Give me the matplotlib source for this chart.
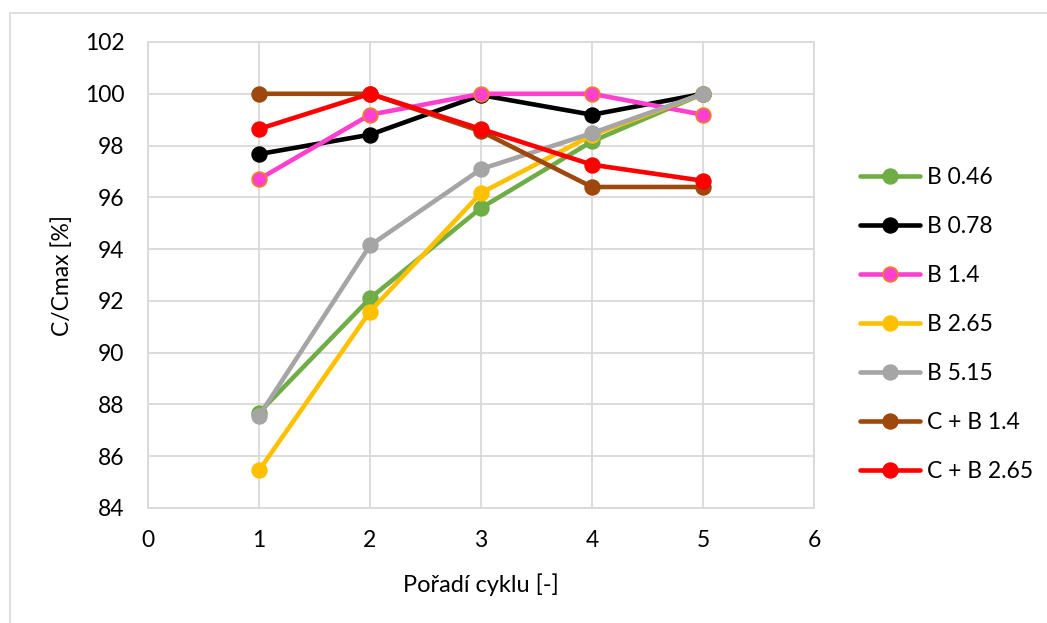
import matplotlib
matplotlib.use("Agg")
import matplotlib.pyplot as plt
from matplotlib.patches import Rectangle

plt.rcParams['font.family'] = ['Lato', 'DejaVu Sans']

cycles = [1, 2, 3, 4, 5]
series_names = ["B 0.46", "B 0.78", "B 1.4", "B 2.65", "B 5.15", "C + B 1.4", "C + B 2.65"]
b046 = [87.68, 92.10, 95.59, 98.16, 100.0]
b078 = [97.67, 98.42, 99.95, 99.19, 100.0]
b14 = [96.70, 99.19, 100.0, 100.0, 99.19]
b265 = [85.45, 91.59, 96.17, 98.40, 100.0]
b515 = [87.55, 94.14, 97.09, 98.48, 100.0]
cb14 = [100.0, 100.0, 98.55, 96.40, 96.40]
cb265 = [98.64, 100.0, 98.64, 97.26, 96.64]
series_values = [b046, b078, b14, b265, b515, cb14, cb265]
x_ticks = [0, 1, 2, 3, 4, 5, 6]
y_ticks = [84, 86, 88, 90, 92, 94, 96, 98, 100, 102]

colors = ["#70ad47", "#000000", "#ff3fcf", "#ffc000", "#a5a5a5", "#9e480e", "#ff0000"]
edge_colors = ["#70ad47", "#000000", "#ed7d31", "#ffc000", "#a5a5a5", "#9e480e", "#ff0000"]

W, H = 1047, 623
fig = plt.figure(figsize=(W / 100, H / 100), dpi=100)
fig.patches.append(Rectangle((10 / W, -0.1), 1.2, (H - 13) / H + 0.1, transform=fig.transFigure,
                             fill=False, edgecolor="#d9d9d9", linewidth=1.2))

ax = fig.add_axes([148 / W, 1 - 508 / H, 666 / W, 466 / H])
grid_c = "#d9d9d9"
for s in ax.spines.values():
    s.set_color(grid_c)
    s.set_linewidth(1.3)
ax.grid(True, color=grid_c, linewidth=1.3)
ax.set_axisbelow(True)

for i, (name, vals) in enumerate(zip(series_names, series_values)):
    ax.plot(cycles, vals, color=colors[i], linewidth=3.3, marker='o', markersize=10.5,
            markerfacecolor=colors[i], markeredgecolor=edge_colors[i], markeredgewidth=1.3,
            label=name, zorder=3 + i, solid_capstyle='round')

ax.set_xlim(0, 6)
ax.set_ylim(84, 102)
ax.set_xticks(x_ticks)
ax.set_yticks(y_ticks)
ax.tick_params(axis='both', length=0, labelsize=16.5, colors="#000000")
ax.tick_params(axis='y', pad=17)
ax.tick_params(axis='x', pad=16)
ax.set_xlabel("Pořadí cyklu [-]", fontsize=17, labelpad=16)
ax.set_ylabel("C/Cmax [%]", fontsize=16.5)
ax.yaxis.set_label_coords((73 - 148) / 666, 0.5)

fig.legend(loc='upper left', bbox_to_anchor=(851 / W, 1 - 158 / H), frameon=False,
           fontsize=16.5, handlelength=2.6, handletextpad=0.3, labelspacing=1.22,
           borderaxespad=0)

fig.savefig("out.png", dpi=100)
